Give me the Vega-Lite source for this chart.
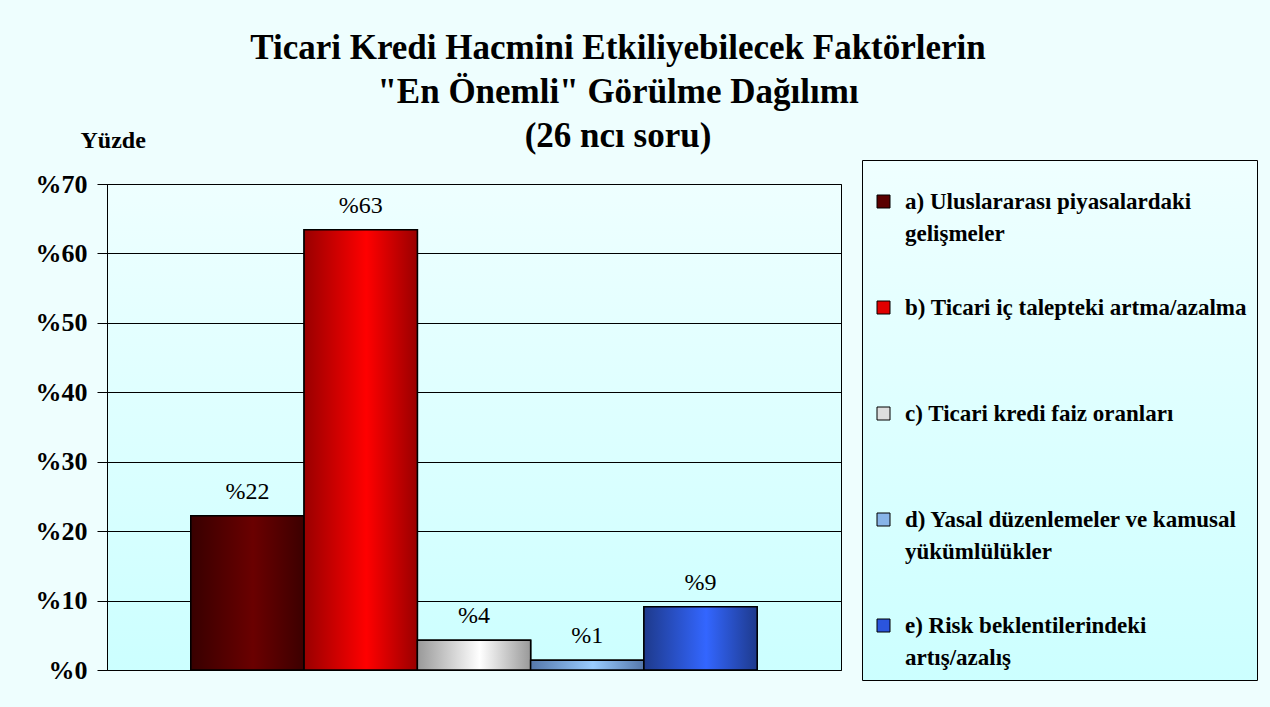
{
  "$schema": "https://vega.github.io/schema/vega-lite/v6.json",
  "autosize": {"type": "none"},
  "width": 734,
  "height": 486,
  "padding": {"left": 107, "top": 184, "right": 429, "bottom": 37},
  "background": "#eefefe",
  "config": {"style": {"guide-label": {"lineHeight": 32}}},
  "view": {
    "fill": {"gradient": "linear", "x1": 0, "y1": 0, "x2": 0, "y2": 1, "stops": [{"offset": 0, "color": "#eeffff"}, {"offset": 1, "color": "#ccffff"}]},
    "stroke": "#000000",
    "strokeWidth": 1
  },
  "title": {
    "text": ["Ticari Kredi Hacmini Etkiliyebilecek Faktörlerin", "\"En Önemli\" Görülme Dağılımı", "(26 ncı soru)"],
    "font": "Liberation Serif",
    "fontSize": 35,
    "fontWeight": "bold",
    "color": "#000000",
    "lineHeight": 44,
    "anchor": "middle",
    "dx": 144,
    "dy": 62,
    "offset": 36
  },
  "data": {
    "values": [
      {"factor": "a) Uluslararası piyasalardaki gelişmeler", "value": 22.2, "label": "%22"},
      {"factor": "b) Ticari iç talepteki artma/azalma", "value": 63.4, "label": "%63"},
      {"factor": "c) Ticari kredi faiz oranları", "value": 4.3, "label": "%4"},
      {"factor": "d) Yasal düzenlemeler ve kamusal yükümlülükler", "value": 1.4, "label": "%1"},
      {"factor": "e) Risk beklentilerindeki artış/azalış", "value": 9.1, "label": "%9"}
    ]
  },
  "encoding": {
    "x": {"field": "factor", "type": "nominal", "sort": null, "axis": null, "scale": {"paddingInner": 0, "paddingOuter": 0.74}},
    "y": {
      "field": "value",
      "type": "quantitative",
      "scale": {"domain": [0, 70], "nice": false},
      "axis": {
        "values": [0, 10, 20, 30, 40, 50, 60, 70],
        "labelExpr": "'%' + datum.value",
        "labelFont": "Liberation Serif",
        "labelFontSize": 26,
        "labelFontWeight": "bold",
        "labelColor": "#000000",
        "labelPadding": 10,
        "tickSize": 10,
        "tickColor": "#000000",
        "domainColor": "#000000",
        "gridColor": "#000000",
        "gridOpacity": 1,
        "title": "Yüzde",
        "titleFont": "Liberation Serif",
        "titleFontSize": 24,
        "titleFontWeight": "bold",
        "titleColor": "#000000",
        "titleAngle": 0,
        "titleAlign": "left",
        "titleBaseline": "middle",
        "titleX": -27,
        "titleY": -44
      }
    }
  },
  "layer": [
    {
      "mark": {"type": "bar", "stroke": "#000000", "strokeWidth": 1.5},
      "encoding": {
        "fill": {
          "field": "factor",
          "type": "nominal",
          "sort": null,
          "scale": {"range": ["#5a0000", "#e00000", "#dddddd", "#88b4e8", "#2b55dd"]},
          "legend": {
            "title": " ",
            "titleFontSize": 7,
            "titlePadding": 13,
            "orient": "none",
            "legendX": 755,
            "legendY": -24,
            "padding": 10,
            "symbolType": "square",
            "symbolSize": 169,
            "symbolStrokeColor": "#000000",
            "symbolStrokeWidth": 1,
            "labelFont": "Liberation Serif",
            "labelFontSize": 23,
            "labelFontWeight": "bold",
            "labelColor": "#000000",
            "labelLimit": 0,
            "labelOffset": 10,
            "rowPadding": 50,
            "strokeColor": "#000000",
            "fillColor": {"value": {"gradient": "linear", "x1": 0, "y1": 0, "x2": 0, "y2": 1, "stops": [{"offset": 0, "color": "#efffff"}, {"offset": 1, "color": "#ccffff"}]}},
            "labelExpr": "datum.label == 'a) Uluslararası piyasalardaki gelişmeler' ? ['a) Uluslararası piyasalardaki', 'gelişmeler'] : datum.label == 'd) Yasal düzenlemeler ve kamusal yükümlülükler' ? ['d) Yasal düzenlemeler ve kamusal', 'yükümlülükler'] : datum.label == 'e) Risk beklentilerindeki artış/azalış' ? ['e) Risk beklentilerindeki', 'artış/azalış'] : [datum.label, ' ']"
          }
        }
      }
    },
    {
      "mark": {"type": "bar", "stroke": "#000000", "strokeWidth": 1.5},
      "encoding": {
        "fill": {
          "condition": [
            {"test": "datum.factor == 'a) Uluslararası piyasalardaki gelişmeler'", "value": {"gradient": "linear", "x1": 0, "y1": 0, "x2": 1, "y2": 0, "stops": [{"offset": 0, "color": "#380000"}, {"offset": 0.55, "color": "#6a0000"}, {"offset": 1, "color": "#3c0000"}]}},
            {"test": "datum.factor == 'b) Ticari iç talepteki artma/azalma'", "value": {"gradient": "linear", "x1": 0, "y1": 0, "x2": 1, "y2": 0, "stops": [{"offset": 0, "color": "#990000"}, {"offset": 0.55, "color": "#ff0000"}, {"offset": 1, "color": "#990000"}]}},
            {"test": "datum.factor == 'c) Ticari kredi faiz oranları'", "value": {"gradient": "linear", "x1": 0, "y1": 0, "x2": 1, "y2": 0, "stops": [{"offset": 0, "color": "#999999"}, {"offset": 0.55, "color": "#ffffff"}, {"offset": 1, "color": "#999999"}]}},
            {"test": "datum.factor == 'd) Yasal düzenlemeler ve kamusal yükümlülükler'", "value": {"gradient": "linear", "x1": 0, "y1": 0, "x2": 1, "y2": 0, "stops": [{"offset": 0, "color": "#5577aa"}, {"offset": 0.55, "color": "#99ccff"}, {"offset": 1, "color": "#5577aa"}]}}
          ],
          "value": {"gradient": "linear", "x1": 0, "y1": 0, "x2": 1, "y2": 0, "stops": [{"offset": 0, "color": "#1e3a8c"}, {"offset": 0.55, "color": "#3366ff"}, {"offset": 1, "color": "#1e3a8c"}]}
        }
      }
    },
    {
      "mark": {"type": "text", "baseline": "bottom", "dy": -12, "font": "Liberation Serif", "fontSize": 24, "color": "#000000"},
      "encoding": {"text": {"field": "label"}}
    }
  ]
}
